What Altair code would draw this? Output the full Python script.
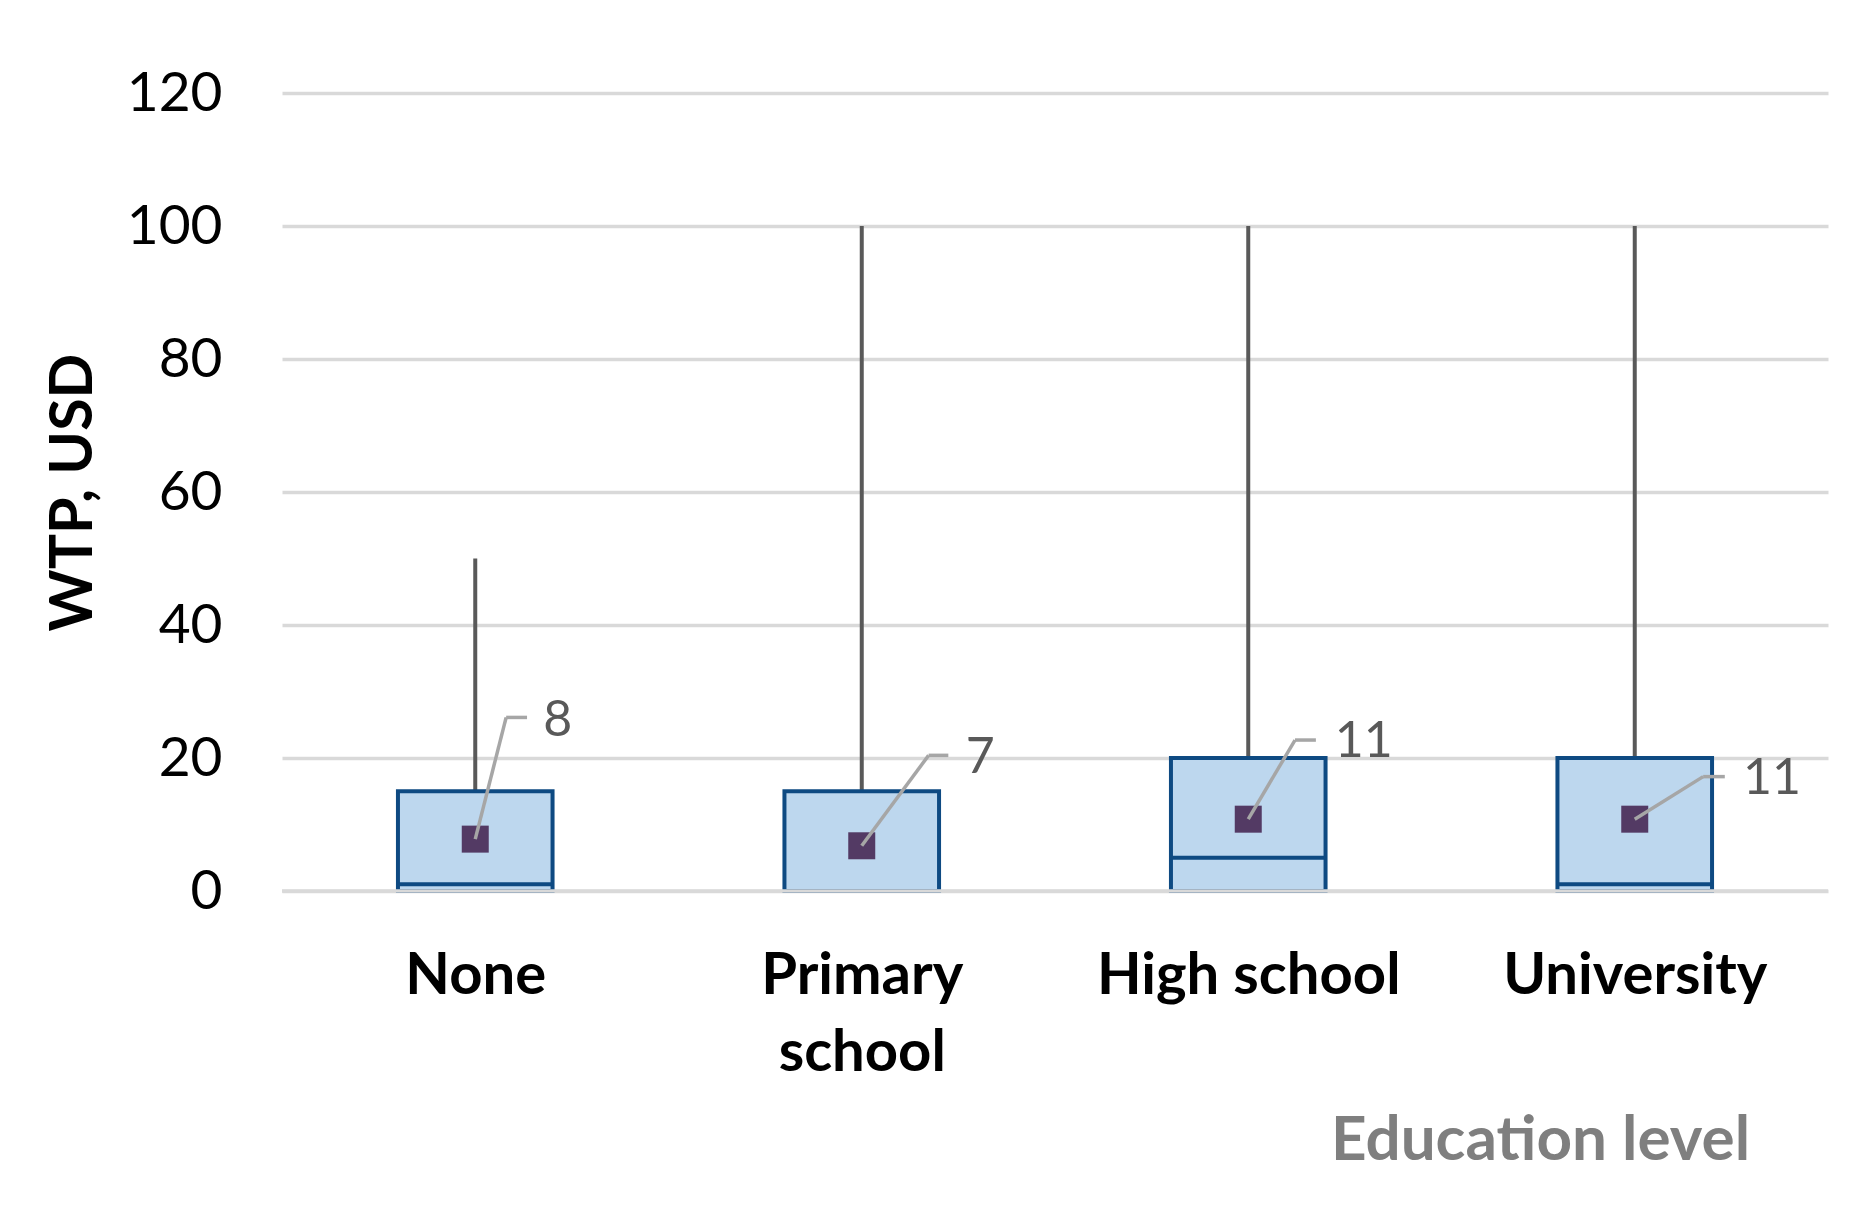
import json
import altair as alt
import pandas as pd

# ---- data ----
categories = ["None", "Primary school", "High school", "University"]
label_lines = [["None"], ["Primary", "school"], ["High school"], ["University"]]
q1 = [0, 0, 0, 0]
median = [1, 0, 5, 1]
q3 = [15, 15, 20, 20]
whisker_max = [50, 100, 100, 100]
mean = [7.8, 6.8, 10.8, 10.8]
mean_label = ["8", "7", "11", "11"]

# data-label (leader line) placement, in category units / value units
elbow_dx = [0.080, 0.173, 0.121, 0.177]
end_dx = [0.134, 0.224, 0.175, 0.233]
text_dx = [0.176, 0.269, 0.224, 0.280]
elbow_val = [26.1, 20.4, 22.7, 17.2]
text_val = [25.6, 20.0, 22.4, 16.9]

y_ticks = [0, 20, 40, 60, 80, 100, 120]

HALF = 0.2  # half box width in category units

df = pd.DataFrame({
    "cat": categories,
    "pos": [i + 0.5 for i in range(len(categories))],
    "q1": q1, "median": median, "q3": q3, "wmax": whisker_max,
    "mean": mean, "label": mean_label,
    "edx": elbow_dx, "ndx": end_dx, "tdx": text_dx,
    "ev": elbow_val, "tv": text_val,
})
df["left"] = df["pos"] - HALF
df["right"] = df["pos"] + HALF
df["ex"] = df["pos"] + df["edx"]
df["nx"] = df["pos"] + df["ndx"]
df["tx"] = df["pos"] + df["tdx"]

FONT = "Lato"
BOX_FILL = "#BDD7EE"
BOX_STROKE = "#0E4A82"
GRID = "#D9D9D9"

label_expr = json.dumps(label_lines) + "[floor(datum.value)]"

x_scale = alt.Scale(domain=[0, len(categories)], nice=False, zero=False)
y_scale = alt.Scale(domain=[0, 120], nice=False)

x_axis = alt.Axis(
    values=[i + 0.5 for i in range(len(categories))],
    labelExpr=label_expr,
    title="Education level",
    grid=False, domain=False, ticks=False, tickSize=0,
    labelFont=FONT, labelFontSize=58, labelFontWeight="bold", labelColor="#000000",
    labelBaseline="alphabetic", labelPadding=102, labelLineHeight=77,
    labelAlign="center", labelLimit=0, labelOverlap=False,
    titleFont=FONT, titleFontSize=62, titleFontWeight="bold", titleColor="#7F7F7F",
    titleX=1258, titleY=249, titleAlign="center", titleBaseline="middle",
    titleLimit=0,
)

y_axis = alt.Axis(
    values=y_ticks,
    title="WTP, USD",
    grid=True, gridColor=GRID, gridWidth=3.5,
    domain=False, ticks=False, tickSize=0,
    labelFont=FONT, labelFontSize=55, labelColor="#000000", labelPadding=60,
    labelBaseline="middle",
    titleFont=FONT, titleFontSize=59, titleFontWeight="bold", titleColor="#000000",
    titleAngle=270, titleX=-209, titleY=399, titleAlign="center", titleBaseline="middle",
    titleLimit=0,
)

base = alt.Chart(df)

whiskers = base.mark_rule(color="#595959", strokeWidth=4).encode(
    x=alt.X("pos:Q", scale=x_scale, axis=x_axis),
    y=alt.Y("q3:Q", scale=y_scale, axis=y_axis),
    y2="wmax:Q",
)

boxes = base.mark_rect(fill=BOX_FILL, stroke=BOX_STROKE, strokeWidth=4).encode(
    x=alt.X("left:Q", scale=x_scale),
    x2="right:Q",
    y=alt.Y("q1:Q", scale=y_scale),
    y2="q3:Q",
)

medians = base.mark_rule(color=BOX_STROKE, strokeWidth=4).encode(
    x=alt.X("left:Q", scale=x_scale),
    x2="right:Q",
    y=alt.Y("median:Q", scale=y_scale),
)

zero_line = alt.Chart(pd.DataFrame({"z": [0]})).mark_rule(color=GRID, strokeWidth=3.5).encode(
    x=alt.value(0), x2=alt.value(1546),
    y=alt.Y("z:Q", scale=y_scale),
)

markers = base.mark_point(shape="square", filled=True, size=729, color="#533A64", opacity=1).encode(
    x=alt.X("pos:Q", scale=x_scale),
    y=alt.Y("mean:Q", scale=y_scale),
)

leader1 = base.mark_rule(color="#A6A6A6", strokeWidth=3.5).encode(
    x=alt.X("pos:Q", scale=x_scale), x2="ex:Q",
    y=alt.Y("mean:Q", scale=y_scale), y2="ev:Q",
)
leader2 = base.mark_rule(color="#A6A6A6", strokeWidth=3.5).encode(
    x=alt.X("ex:Q", scale=x_scale), x2="nx:Q",
    y=alt.Y("ev:Q", scale=y_scale),
)

labels = base.mark_text(font=FONT, fontSize=50, color="#595959", align="left", baseline="middle").encode(
    x=alt.X("tx:Q", scale=x_scale),
    y=alt.Y("tv:Q", scale=y_scale),
    text="label:N",
)

chart = alt.layer(
    whiskers, boxes, medians, zero_line, markers, leader1, leader2, labels
).properties(
    width=1546, height=798,
    autosize=alt.AutoSizeParams(type="none"),
    padding={"left": 274, "top": 85, "right": 30, "bottom": 310},
).configure(background="white").configure_view(stroke=None)

chart.save("out.html", embed_options={"renderer": "svg", "actions": False})
